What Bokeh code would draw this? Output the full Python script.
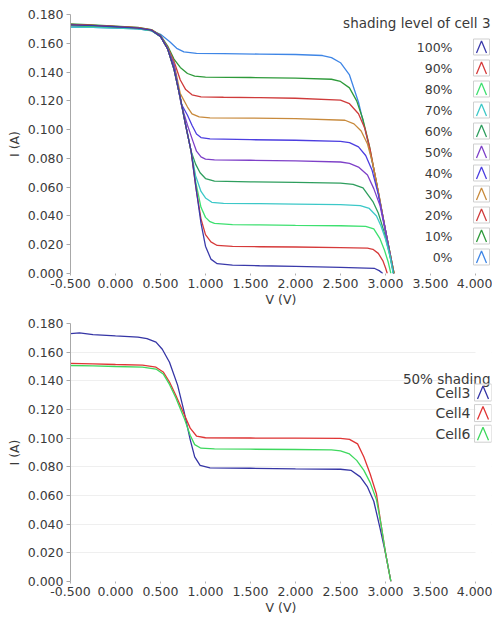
from bokeh.plotting import figure
from bokeh.layouts import column
from bokeh.models import (FixedTicker, NumeralTickFormatter, Label,
                          PolyAnnotation, BoxAnnotation)
from bokeh.embed import file_html
from bokeh.resources import INLINE

# ---------------- data ----------------
X_TICKS = [-0.5, 0.0, 0.5, 1.0, 1.5, 2.0, 2.5, 3.0, 3.5, 4.0]
Y_TICKS = [0.0, 0.02, 0.04, 0.06, 0.08, 0.10, 0.12, 0.14, 0.16, 0.18]

# top chart: shading level of cell 3
V_SH0 = [-0.5, -0.25, 0.0, 0.25, 0.4, 0.5, 0.6, 0.68, 0.76, 0.9, 1.2, 1.6, 2.0, 2.3, 2.4, 2.5, 2.6, 2.7, 2.8, 2.9, 3.0, 3.095]
I_SH0 = [0.1712, 0.1710, 0.1706, 0.1700, 0.1688, 0.1662, 0.1612, 0.1565, 0.1540, 0.1530, 0.1528, 0.1525, 0.1522, 0.1515, 0.1500, 0.1465, 0.1380, 0.1190, 0.0930, 0.0630, 0.0300, 0.0]

V_SH10 = [-0.5, -0.25, 0.0, 0.25, 0.4, 0.5, 0.58, 0.65, 0.72, 0.8, 0.88, 1.0, 1.5, 2.0, 2.4, 2.5, 2.6, 2.68, 2.75, 2.82, 2.9, 3.0, 3.095]
I_SH10 = [0.1734, 0.1727, 0.1719, 0.1710, 0.1695, 0.1655, 0.1580, 0.1490, 0.1432, 0.1390, 0.1372, 0.1365, 0.1362, 0.1358, 0.1350, 0.1335, 0.1290, 0.1200, 0.1070, 0.0890, 0.0630, 0.0300, 0.0]

V_SH20 = [-0.5, -0.25, 0.0, 0.25, 0.4, 0.5, 0.58, 0.65, 0.72, 0.78, 0.85, 0.95, 1.2, 1.6, 2.0, 2.5, 2.6, 2.7, 2.77, 2.83, 2.9, 3.0, 3.095]
I_SH20 = [0.1731, 0.1725, 0.1717, 0.1708, 0.1693, 0.1652, 0.1572, 0.1475, 0.1345, 0.1278, 0.1242, 0.1228, 0.1225, 0.1222, 0.1218, 0.1205, 0.1180, 0.1110, 0.1010, 0.0860, 0.0630, 0.0300, 0.0]

V_SH30 = [-0.5, -0.25, 0.0, 0.25, 0.4, 0.5, 0.58, 0.65, 0.72, 0.8, 0.85, 0.93, 1.05, 1.5, 2.0, 2.55, 2.65, 2.73, 2.8, 2.86, 2.93, 3.0, 3.095]
I_SH30 = [0.1727, 0.1721, 0.1714, 0.1706, 0.1691, 0.1650, 0.1567, 0.1462, 0.1250, 0.1157, 0.1110, 0.1088, 0.1082, 0.1080, 0.1077, 0.1065, 0.1040, 0.0990, 0.0900, 0.0760, 0.0540, 0.0300, 0.0]

V_SH40 = [-0.5, -0.25, 0.0, 0.25, 0.4, 0.5, 0.58, 0.65, 0.73, 0.8, 0.85, 0.9, 0.95, 1.05, 1.5, 2.0, 2.5, 2.6, 2.7, 2.78, 2.85, 2.92, 3.0, 3.09]
I_SH40 = [0.1725, 0.1719, 0.1712, 0.1704, 0.1690, 0.1648, 0.1563, 0.1450, 0.1180, 0.1100, 0.1030, 0.0970, 0.0945, 0.0935, 0.0930, 0.0926, 0.0918, 0.0910, 0.0880, 0.0820, 0.0720, 0.0550, 0.0300, 0.0]

V_SH50 = [-0.5, -0.25, 0.0, 0.25, 0.4, 0.5, 0.58, 0.65, 0.73, 0.8, 0.86, 0.9, 0.95, 1.0, 1.1, 1.5, 2.0, 2.5, 2.6, 2.7, 2.8, 2.87, 2.94, 3.01, 3.09]
I_SH50 = [0.1723, 0.1717, 0.1710, 0.1703, 0.1689, 0.1648, 0.1562, 0.1448, 0.1175, 0.1030, 0.0920, 0.0850, 0.0810, 0.0795, 0.0790, 0.0787, 0.0783, 0.0775, 0.0765, 0.0740, 0.0685, 0.0590, 0.0470, 0.0260, 0.0]

V_SH60 = [-0.5, -0.25, 0.0, 0.25, 0.4, 0.5, 0.58, 0.65, 0.72, 0.78, 0.84, 0.89, 0.94, 1.0, 1.1, 1.5, 2.0, 2.5, 2.64, 2.75, 2.86, 2.92, 2.98, 3.04, 3.09]
I_SH60 = [0.1722, 0.1716, 0.1710, 0.1702, 0.1688, 0.1647, 0.1560, 0.1420, 0.1220, 0.1030, 0.0850, 0.0760, 0.0700, 0.0660, 0.0642, 0.0637, 0.0633, 0.0628, 0.0620, 0.0595, 0.0500, 0.0420, 0.0300, 0.0150, 0.0]

V_SH70 = [-0.5, -0.25, 0.0, 0.25, 0.4, 0.5, 0.58, 0.65, 0.72, 0.78, 0.84, 0.89, 0.95, 1.0, 1.07, 1.2, 1.6, 2.0, 2.5, 2.72, 2.82, 2.9, 2.95, 3.0, 3.05, 3.085]
I_SH70 = [0.1712, 0.1710, 0.1706, 0.1700, 0.1687, 0.1646, 0.1560, 0.1420, 0.1220, 0.1030, 0.0850, 0.0680, 0.0570, 0.0525, 0.0495, 0.0488, 0.0485, 0.0482, 0.0478, 0.0472, 0.0452, 0.0400, 0.0330, 0.0240, 0.0120, 0.0]

V_SH80 = [-0.5, -0.25, 0.0, 0.25, 0.4, 0.5, 0.58, 0.65, 0.72, 0.78, 0.84, 0.89, 0.95, 1.0, 1.05, 1.1, 1.3, 1.6, 2.0, 2.5, 2.78, 2.87, 2.94, 2.99, 3.03, 3.06]
I_SH80 = [0.1726, 0.1720, 0.1713, 0.1705, 0.1690, 0.1647, 0.1560, 0.1420, 0.1220, 0.1030, 0.0850, 0.0640, 0.0460, 0.0390, 0.0360, 0.0348, 0.0340, 0.0338, 0.0335, 0.0332, 0.0328, 0.0310, 0.0240, 0.0160, 0.0080, 0.0]

V_SH90 = [-0.5, -0.25, 0.0, 0.25, 0.4, 0.5, 0.58, 0.65, 0.72, 0.78, 0.84, 0.89, 0.95, 1.0, 1.06, 1.13, 1.3, 1.6, 2.0, 2.5, 2.8, 2.86, 2.92, 2.97, 3.0, 3.02]
I_SH90 = [0.1730, 0.1724, 0.1716, 0.1707, 0.1692, 0.1648, 0.1560, 0.1420, 0.1220, 0.1030, 0.0850, 0.0610, 0.0380, 0.0270, 0.0220, 0.0195, 0.0188, 0.0186, 0.0184, 0.0180, 0.0176, 0.0168, 0.0140, 0.0090, 0.0040, 0.0]

V_SH100 = [-0.5, -0.25, 0.0, 0.25, 0.4, 0.5, 0.58, 0.65, 0.72, 0.78, 0.84, 0.9, 0.95, 1.0, 1.06, 1.13, 1.3, 1.6, 2.0, 2.5, 2.88, 2.93, 2.97]
I_SH100 = [0.1728, 0.1722, 0.1715, 0.1706, 0.1691, 0.1648, 0.1560, 0.1420, 0.1220, 0.1030, 0.0850, 0.0570, 0.0350, 0.0190, 0.0100, 0.0068, 0.0058, 0.0054, 0.0050, 0.0043, 0.0035, 0.0020, 0.0]

TOP_LABELS = ["0%", "10%", "20%", "30%", "40%", "50%", "60%", "70%", "80%", "90%", "100%"]
TOP_COLORS = ["#3f86e6", "#2e9a3a", "#cf3b3b", "#c88a3c", "#4c3ee0", "#7e40c8",
              "#2e9e5e", "#3cc8c8", "#3ee070", "#d63a3a", "#3a3aaa"]
TOP_V = [V_SH0, V_SH10, V_SH20, V_SH30, V_SH40, V_SH50, V_SH60, V_SH70, V_SH80, V_SH90, V_SH100]
TOP_I = [I_SH0, I_SH10, I_SH20, I_SH30, I_SH40, I_SH50, I_SH60, I_SH70, I_SH80, I_SH90, I_SH100]
TOP_TITLE = "shading level of cell 3"

# bottom chart: 50% shading
V_CELL3 = [-0.5, -0.4, -0.25, 0.0, 0.25, 0.35, 0.45, 0.52, 0.6, 0.69, 0.76, 0.83, 0.88, 0.94, 1.05, 1.5, 2.0, 2.5, 2.62, 2.72, 2.8, 2.87, 2.94, 3.0, 3.06]
I_CELL3 = [0.1730, 0.1735, 0.1722, 0.1713, 0.1705, 0.1695, 0.1670, 0.1620, 0.1530, 0.1370, 0.1190, 0.0990, 0.0870, 0.0810, 0.0793, 0.0790, 0.0786, 0.0783, 0.0775, 0.0730, 0.0660, 0.0560, 0.0370, 0.0200, 0.0]

V_CELL4 = [-0.5, -0.25, 0.0, 0.3, 0.45, 0.53, 0.6, 0.67, 0.76, 0.83, 0.9, 1.0, 1.5, 2.0, 2.5, 2.6, 2.69, 2.76, 2.83, 2.9, 2.95, 3.0, 3.06]
I_CELL4 = [0.1522, 0.1518, 0.1514, 0.1510, 0.1495, 0.1462, 0.1392, 0.1300, 0.1170, 0.1070, 0.1015, 0.1003, 0.1001, 0.1000, 0.0998, 0.0992, 0.0960, 0.0868, 0.0750, 0.0610, 0.0400, 0.0200, 0.0]

V_CELL6 = [-0.5, -0.25, 0.0, 0.3, 0.45, 0.53, 0.6, 0.67, 0.76, 0.83, 0.88, 0.95, 1.1, 1.5, 2.0, 2.4, 2.5, 2.6, 2.68, 2.76, 2.83, 2.9, 2.95, 3.0, 3.06]
I_CELL6 = [0.1507, 0.1504, 0.1500, 0.1496, 0.1482, 0.1448, 0.1375, 0.1282, 0.1145, 0.1020, 0.0955, 0.0930, 0.0925, 0.0923, 0.0921, 0.0918, 0.0912, 0.0890, 0.0845, 0.0775, 0.0690, 0.0570, 0.0400, 0.0200, 0.0]

BOT_LABELS = ["Cell3", "Cell4", "Cell6"]
BOT_COLORS = ["#3535a5", "#e03535", "#3ed85e"]
BOT_V = [V_CELL3, V_CELL4, V_CELL6]
BOT_I = [I_CELL3, I_CELL4, I_CELL6]
BOT_TITLE = "50% shading"

# ---------------- style ----------------
FONT = "DejaVu Sans"
TXT = "#3a3a3a"
FS = "12.5px"
X_END = 4.178          # frame runs a little past the last tick to hold the legend keys


def base_fig(frame_h, top, grid):
    p = figure(frame_width=421, frame_height=frame_h,
               x_range=(X_TICKS[0], X_END), y_range=(Y_TICKS[0], Y_TICKS[-1]),
               output_backend="svg", toolbar_location=None,
               min_border_left=70, min_border_right=1,
               min_border_top=top, min_border_bottom=34)
    p.outline_line_color = None
    p.background_fill_color = "white"
    p.xgrid.grid_line_color = None
    p.ygrid.grid_line_color = "#efefef" if grid else None
    p.xaxis.ticker = FixedTicker(ticks=X_TICKS)
    p.yaxis.ticker = FixedTicker(ticks=Y_TICKS)
    for ax in (p.xaxis, p.yaxis):
        ax.formatter = NumeralTickFormatter(format="0.000")
        ax.major_label_text_font = FONT
        ax.major_label_text_font_size = FS
        ax.major_label_text_color = TXT
        ax.axis_label_text_font = FONT
        ax.axis_label_text_font_size = FS
        ax.axis_label_text_font_style = "normal"
        ax.axis_label_text_color = TXT
        ax.minor_tick_line_color = None
        ax.major_tick_in = 0
    p.xaxis.axis_label = "V (V)"
    p.xaxis.axis_line_color = None
    p.xaxis.major_tick_line_color = "#b0b0b0"
    p.xaxis.major_tick_out = 2
    p.xaxis.major_label_standoff = 3
    p.xaxis.axis_label_standoff = 1
    p.yaxis.axis_label = "I (A)"
    p.yaxis.axis_line_color = "#a8a8a8"
    p.yaxis.major_tick_line_color = "#a8a8a8"
    p.yaxis.major_tick_out = 4
    p.yaxis.major_label_standoff = 3
    p.yaxis.axis_label_standoff = 3
    if grid:
        # hide the grid beyond the last tick
        p.add_layout(BoxAnnotation(left=X_TICKS[-1], fill_color="white", fill_alpha=1,
                                   line_color=None))
    return p


def add_legend(p, title, labels, colors, title_x, title_y, y0, dy, label_x, box_x,
               title_fs, label_fs, bw, bh):
    p.add_layout(Label(x=title_x, y=title_y, x_units="screen", y_units="screen",
                       text=title, text_align="right", text_baseline="middle",
                       text_font=FONT, text_font_size=title_fs, text_color=TXT))
    for i, (lab, col) in enumerate(zip(labels, colors)):
        yc = y0 - i * dy
        p.add_layout(Label(x=label_x, y=yc, x_units="screen", y_units="screen",
                           text=lab, text_align="right", text_baseline="middle",
                           text_font=FONT, text_font_size=label_fs, text_color=TXT))
        p.add_layout(BoxAnnotation(left=box_x, right=box_x + bw,
                                   bottom=yc - bh / 2, top=yc + bh / 2,
                                   left_units="screen", right_units="screen",
                                   bottom_units="screen", top_units="screen",
                                   fill_color=None, fill_alpha=0,
                                   line_color="#cfcfcf", line_alpha=1, line_width=1))
        pad = 3
        p.add_layout(PolyAnnotation(xs=[box_x + pad, box_x + bw / 2, box_x + bw - pad, box_x + bw / 2],
                                    ys=[yc - bh / 2 + 2, yc + bh / 2 - 2, yc - bh / 2 + 2, yc + bh / 2 - 2],
                                    xs_units="screen", ys_units="screen",
                                    fill_alpha=0, line_color=col, line_alpha=1,
                                    line_width=1.3))


# ---------------- top chart ----------------
p1 = base_fig(259, 14, False)
for vv, ii, col in zip(TOP_V, TOP_I, TOP_COLORS):
    p1.line(vv, ii, line_color=col, line_width=1.3)
add_legend(p1, TOP_TITLE, TOP_LABELS[::-1], TOP_COLORS[::-1],
           title_x=420, title_y=251, y0=226.5, dy=21, label_x=382, box_x=403,
           title_fs="13.5px", label_fs="12.5px", bw=16, bh=16)

# ---------------- bottom chart ----------------
p2 = base_fig(258, 14, True)
for vv, ii, col in zip(BOT_V, BOT_I, BOT_COLORS):
    p2.line(vv, ii, line_color=col, line_width=1.3)
add_legend(p2, BOT_TITLE, BOT_LABELS, BOT_COLORS,
           title_x=420, title_y=203, y0=189, dy=20.6, label_x=400, box_x=404,
           title_fs="13.5px", label_fs="14px", bw=17, bh=17)

layout = column(p1, p2)
open("out.html", "w").write(file_html(layout, INLINE))
